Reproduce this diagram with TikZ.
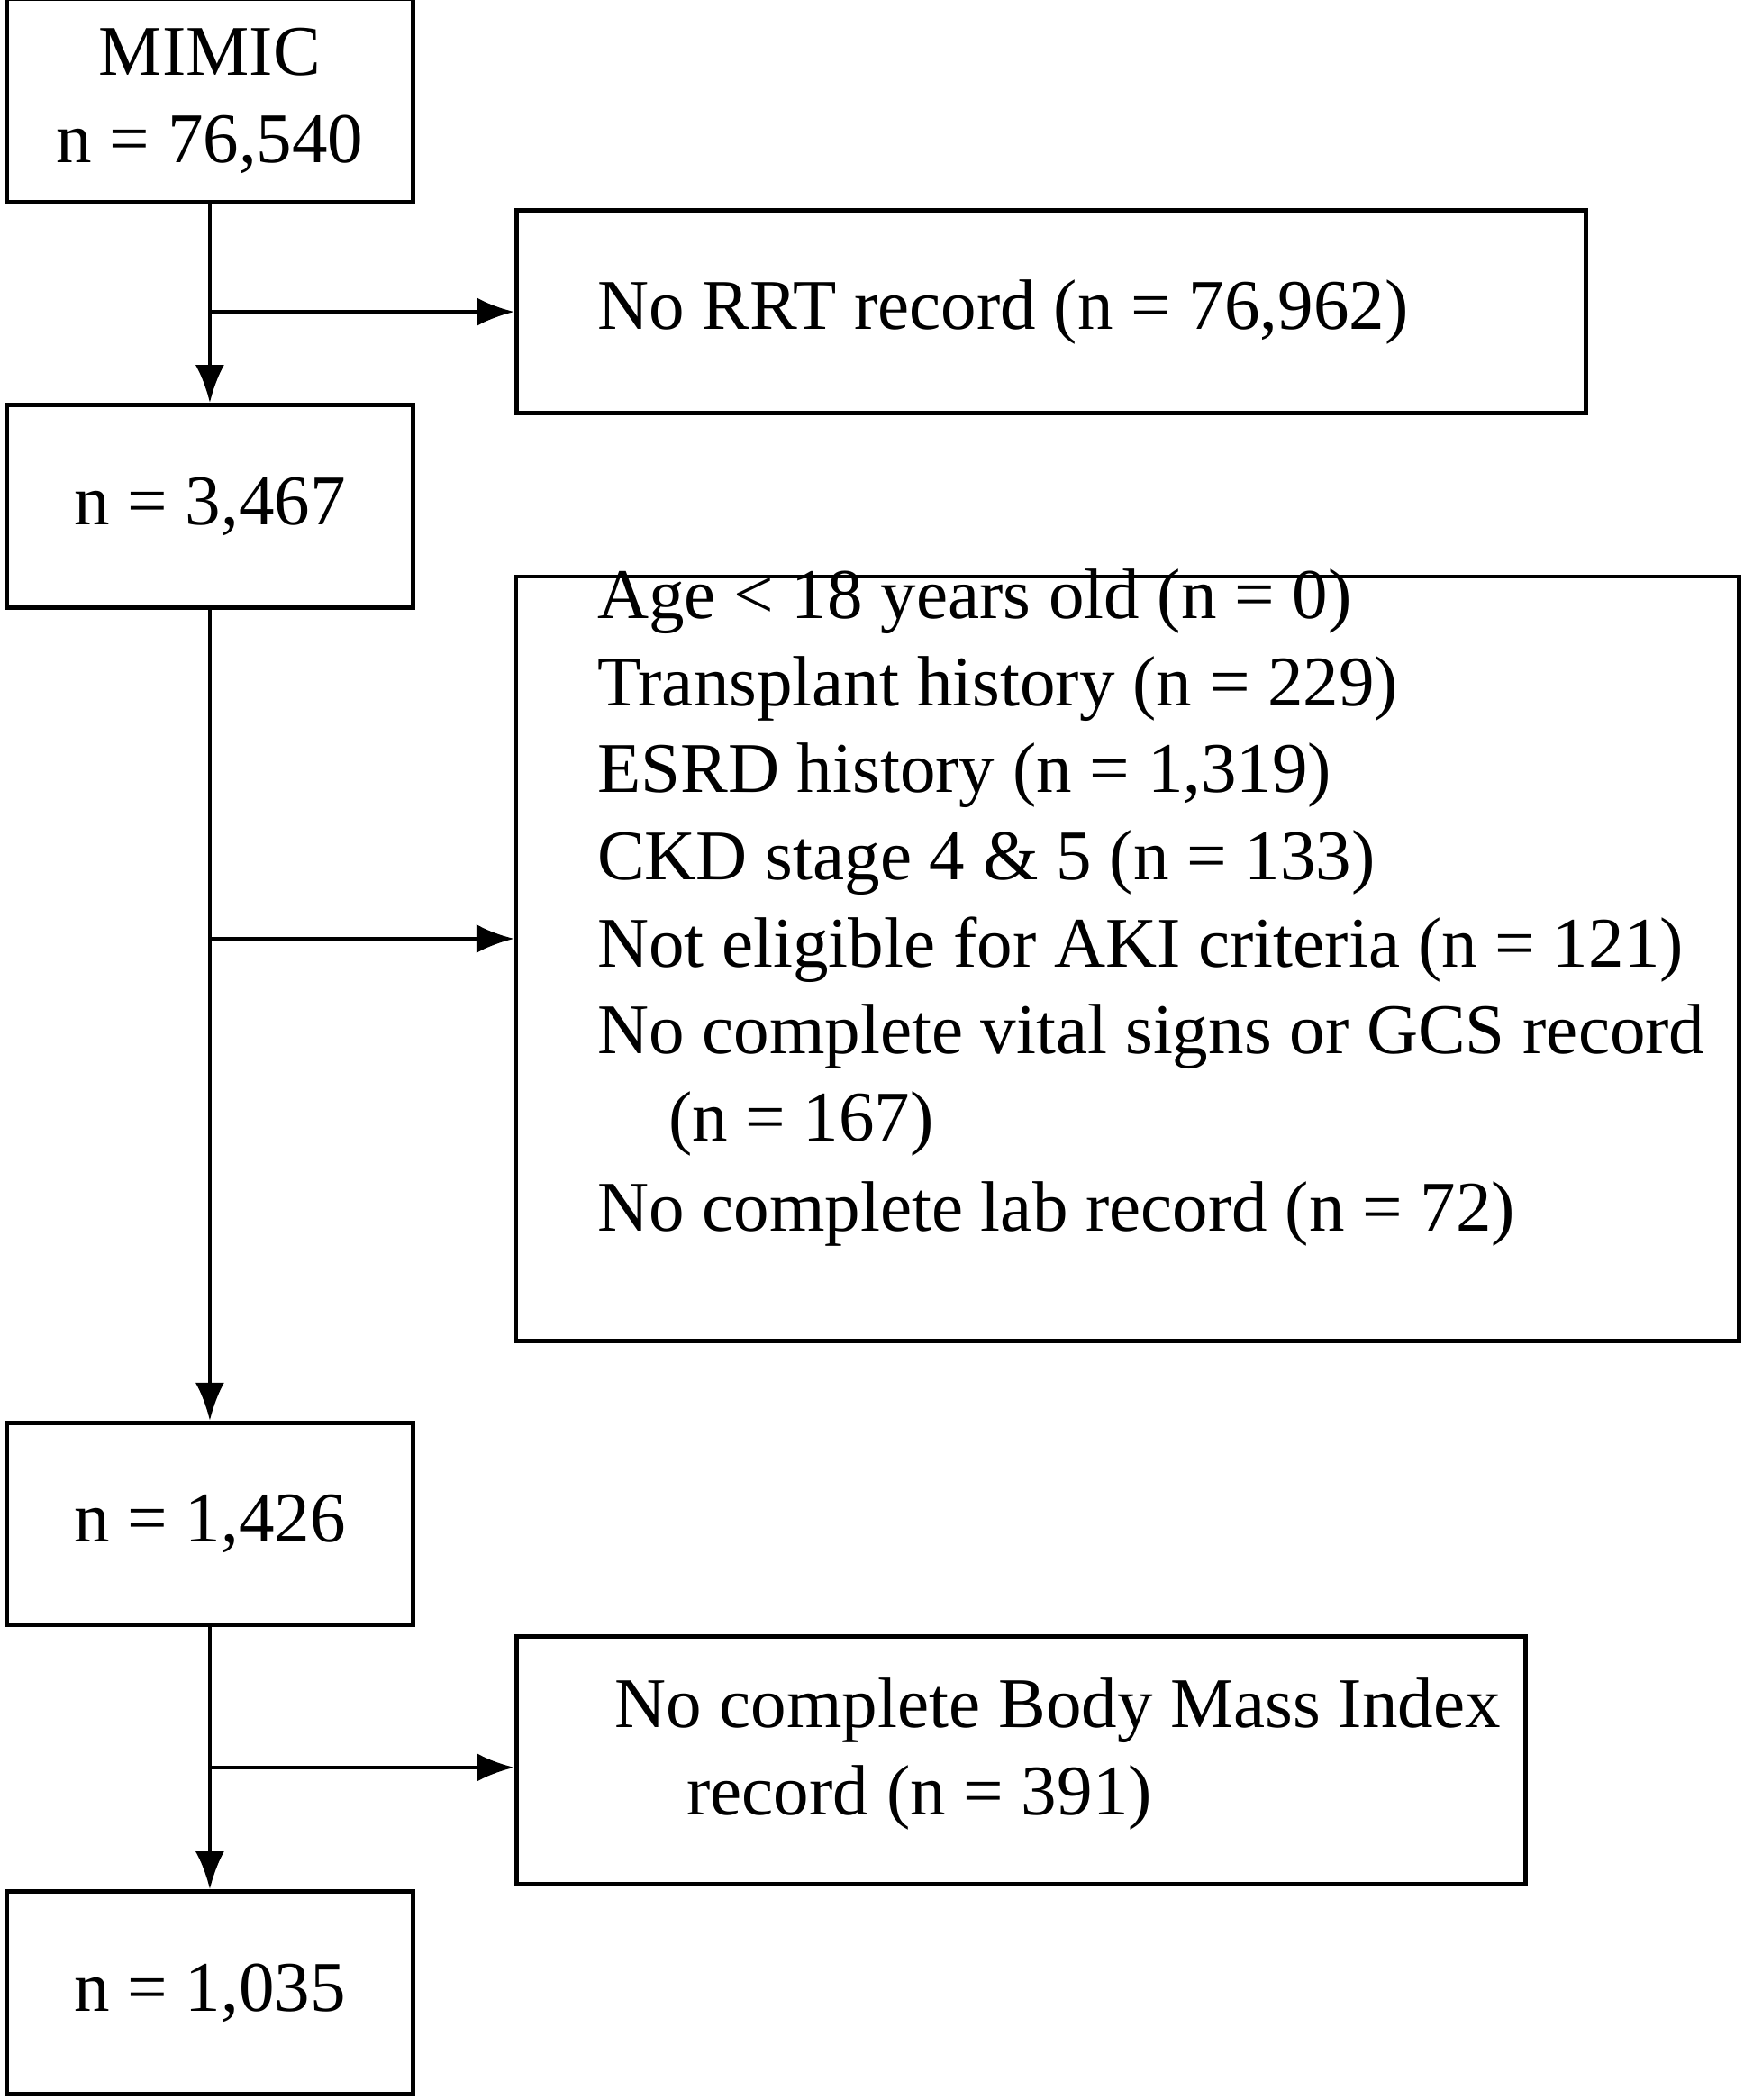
\documentclass[tikz,border=0pt]{standalone}
\usepackage{fontspec}
\setmainfont{Liberation Serif}
\usetikzlibrary{positioning,arrows.meta}
\tikzset{>=Latex}

\begin{document}
\begin{tikzpicture}[x=0.01489cm,y=-0.01489cm]
    \fontsize{22.5}{27.5}\selectfont
    \tikzset{
    leftbox/.style={draw, line width=1.3pt, minimum width=4.51cm, minimum height=2.25cm, align=center, inner sep=0pt},
    rightbox/.style={draw, line width=1.3pt, inner sep=0pt},
    boxtext/.style={anchor=north west, align=left, inner sep=0pt},
    flow/.style={line width=1.3pt, -{Latex[length=0.42cm,width=0.32cm]}},
    }

    \useasboundingbox (0,0) rectangle (1300,1566);

    % Main column.
    \node[leftbox] (mimic) at (156.5,75)   {MIMIC\\n = 76,540};
    \node[leftbox] (rrtn)  at (156.5,377.5) {n = 3,467};
    \node[leftbox] (akin)  at (156.5,1136.5) {n = 1,426};
    \node[leftbox] (bmin)  at (156.5,1486) {n = 1,035};

    % Exclusion boxes.
    \node[rightbox, minimum width=11.88cm, minimum height=2.25cm] (norrt) at (784,232.5) {};
    \node[rightbox, minimum width=13.58cm, minimum height=8.49cm] (excl)  at (841,715) {};
    \node[rightbox, minimum width=11.21cm, minimum height=2.75cm] (nobmi) at (761.5,1312.5) {};

    \node[anchor=west, inner sep=0pt] (norrttext) at (445,232.5) {No RRT record (n = 76,962)};
    \node[boxtext] (excltext) at (445,424) {Age < 18 years old (n = 0)\\
        Transplant history (n = 229)\\
        ESRD history (n = 1,319)\\
        CKD stage 4 \& 5 (n = 133)\\
        Not eligible for AKI criteria (n = 121)\\
        No complete vital signs or GCS record\\
        \hspace*{0.79cm}(n = 167)\\[1pt]
        No complete lab record (n = 72)};
    \node[boxtext] (nobmitext) at (458,1251) {No complete Body Mass Index\\
        \hspace*{0.8cm}record (n = 391)};

    % Connectors.
    \draw[flow] (mimic) -- (rrtn);
    \draw[flow] (rrtn) -- (akin);
    \draw[flow] (akin) -- (bmin);

    \coordinate (b1) at (mimic.south |- norrt.west);
    \coordinate (b2) at (158,700);
    \coordinate (b3) at (158,1318);
    \draw[flow] (b1) -- (norrt.west);
    \draw[flow] (b2) -- (b2 -| excl.west);
    \draw[flow] (b3) -- (b3 -| nobmi.west);
\end{tikzpicture}
\end{document}
